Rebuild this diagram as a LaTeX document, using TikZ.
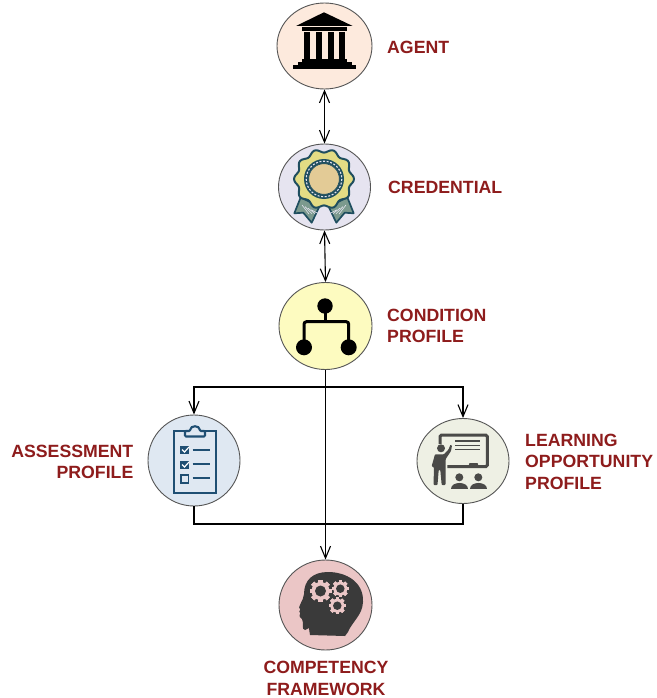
\documentclass[tikz,border=0pt]{standalone}
\usepackage{fontspec}
\setmainfont{Liberation Sans}
\usetikzlibrary{shapes.geometric,arrows.meta}
\definecolor{lab}{HTML}{8E1C1C}
\definecolor{ring}{HTML}{555555}
\definecolor{teal}{HTML}{1F4E5F}
\definecolor{navy}{HTML}{1F4F73}
\definecolor{slategrey}{HTML}{4A4A48}
\definecolor{headgrey}{HTML}{3A3A3A}
\definecolor{agentbg}{HTML}{FDEADD}
\definecolor{credbg}{HTML}{E6E4F0}
\definecolor{condbg}{HTML}{FDFBC0}
\definecolor{assessbg}{HTML}{DFE8F2}
\definecolor{learnbg}{HTML}{EEF0E4}
\definecolor{compbg}{HTML}{EBC6C6}
\definecolor{rosette}{HTML}{E3DC84}
\definecolor{seal}{HTML}{E3CB96}
\definecolor{tail}{HTML}{7C9A8E}
\tikzset{
  disc/.style={ellipse,draw=ring,line width=0.9pt,inner sep=0pt},
  lbl/.style={text=lab,inner sep=0pt,font=\bfseries\fontsize{17.7}{21.5}\selectfont},
  link/.style={line width=1.1pt,draw=black},
  barb/.style={-{Straight Barb[length=12pt,width=10pt,line width=1.1pt]}},
  dbarb/.style={{Straight Barb[length=12pt,width=10pt,line width=1.1pt]}-{Straight Barb[length=12pt,width=10pt,line width=1.1pt]}},
}
\newcommand{\cogwheel}[3]{%
  \foreach \a in {0,45,...,315}{
    \fill[compbg,rotate around={\a:(#1,#2)}] (#1-#3*0.2,#2-#3) rectangle (#1+#3*0.2,#2+#3);
  }
  \fill[compbg] (#1,#2) circle[radius=#3*0.82];
  \fill[headgrey] (#1,#2) circle[radius=#3*0.5];
}
\begin{document}
\begin{tikzpicture}[x=1pt,y=-1pt]
\useasboundingbox (0,0) rectangle (656,698);
\fill[white] (0,0) rectangle (656,698);

% discs
\node[disc,fill=agentbg,minimum width=95pt,minimum height=86pt] (agent) at (324.5,46) {};
\node[disc,fill=credbg,minimum width=92pt,minimum height=86pt] (cred) at (324.5,187) {};
\node[disc,fill=condbg,minimum width=93pt,minimum height=87pt] (cond) at (325.5,326) {};
\node[disc,fill=assessbg,minimum width=92pt,minimum height=91pt] (assess) at (194,460.5) {};
\node[disc,fill=learnbg,minimum width=92pt,minimum height=85pt] (learn) at (463,461) {};
\node[disc,fill=compbg,minimum width=93pt,minimum height=90pt] (comp) at (325.5,605) {};

% connectors
\coordinate (bus) at (325.5,387);
\coordinate (rail) at (325.5,524);
\draw[link,dbarb] (agent.south) -- (cred.north);
\draw[link,dbarb] (cred.south) -- (cond.north);
\draw[link,barb] (cond.south) -- (comp.north);
\draw[link,barb] (bus) -- (bus -| assess.north) -- (assess.north);
\draw[link,barb] (bus) -- (bus -| learn.north) -- (learn.north);
\draw[link] (assess.south) -- (rail -| assess.south) -- (rail -| learn.south) -- (learn.south);

% agent icon
\fill[black] (324,12.3) -- (352.7,26) -- (296,26) -- cycle;
\fill[black] (301.7,27.3) rectangle (346.7,30.7);
\foreach \x in {303.8,315.5,327.5,339.1}{\fill[black] (\x,31.7) rectangle (\x+6.2,59);}
\fill[black] (301.7,59) rectangle (346.7,62.5);
\fill[black] (297.5,62.3) rectangle (351.7,65.5);
\fill[black] (292.7,65.5) rectangle (355.7,69);

% credential icon
\foreach \s in {1,-1}{
  \begin{scope}[shift={(324,0)},x=\s pt]
    \draw[teal,line width=1.7pt,fill=tail,line join=round]
      (-23.3,197.3) -- (-29.7,213.3) -- (-20.7,212.7) -- (-12.3,222.7) -- (-4.7,206.7) -- cycle;
    \foreach \k in {0,1,2,3}{
      \draw[credbg,line width=0.6pt] (-22+\k*3,205+\k*1.6) -- (-15+\k*3,214-\k*0.2);
    }
  \end{scope}
}
\draw[teal,line width=2pt,fill=rosette,line join=round]
  plot[samples=96,domain=0:356.25] ({324+(28.2+1.8*cos(10*\x))*cos(\x)},{179+(28.2+1.8*cos(10*\x))*sin(\x)}) -- cycle;
\fill[teal] (324,179) circle[radius=20];
\draw[credbg,line width=1.1pt,dash pattern=on 2pt off 1.6pt] (324,179) circle[radius=17.8];
\fill[seal,draw=teal,line width=0.6pt] (324,179) circle[radius=15.3];

% condition icon
\draw[black,line width=3pt,rounded corners=2.5pt] (304,347.3) -- (304,321.7) -- (348.7,321.7) -- (348.7,347.3);
\draw[black,line width=3pt] (325,306) -- (325,321.7);
\fill[black] (325,306) circle[radius=7.7];
\fill[black] (304,347.3) circle[radius=8];
\fill[black] (348.7,347.3) circle[radius=8];

% assessment icon
\draw[navy,line width=2.1pt] (173.8,431) rectangle (216.2,493);
\draw[navy,line width=2.1pt,fill=assessbg,rounded corners=1pt] (185,436.5) -- (185,431) -- (190,431) .. controls (190.5,425) and (199.5,425) .. (200,431) -- (205,431) -- (205,436.5) -- cycle;
\fill[navy] (180,446) rectangle (189.3,454.3);
\draw[white,line width=1.2pt] (182,449.5) -- (184.5,452) -- (189,447);
\fill[navy] (180,460.7) rectangle (189.3,469.3);
\draw[white,line width=1.2pt] (182,464.5) -- (184.5,467) -- (189,462);
\draw[navy,line width=1.9pt] (180.8,475) rectangle (188.5,483);
\foreach \y in {450.3,464.3,478.3}{\draw[navy,line width=1.9pt] (192.7,\y) -- (210,\y);}

% learning icon
\draw[slategrey,line width=3pt,rounded corners=1.5pt] (440,444) -- (440,435) -- (487.3,435) -- (487.3,466.7) -- (447.3,466.7);
\foreach \y in {441,445.3,449.3}{\draw[slategrey,line width=1.2pt] (455,\y) -- (480,\y);}
\fill[slategrey] (468.5,466) -- (469.5,463) -- (477.5,463) -- (478.5,466) -- cycle;
\fill[slategrey] (441,448.3) circle[radius=4];
\fill[slategrey,rounded corners=0.8pt] (431.7,466) -- (435,454.3) -- (444,454.3) -- (448.5,449.5) -- (450.5,444.5) -- (452,445.5) -- (451,451) -- (445.7,459) -- (445.5,485) -- (441.7,485) -- (440.3,470) -- (438.7,470) -- (437.5,485) -- (433.5,485) -- (434,467) -- (433.3,467.5) -- cycle;
\foreach \x in {459.3,478.3}{
  \fill[slategrey] (\x,477.3) circle[radius=4];
  \fill[slategrey] (\x-8.5,488.5) .. controls (\x-8.5,480.5) and (\x+8.5,480.5) .. (\x+8.5,488.5) -- cycle;
}

% competency icon
\fill[headgrey] (310,635) .. controls (309.5,631) and (309,630) .. (309,628)
  -- (305,630) .. controls (301,630) and (304,622) .. (302,619)
  .. controls (298,616) and (300,615) .. (300,614)
  -- (300,613) .. controls (299,612) and (299,611) .. (300,610)
  -- (300,609) .. controls (298,609) and (299.5,606) .. (300,605)
  .. controls (302,600) and (304,598) .. (304,594)
  .. controls (304,580) and (313,572) .. (328,572)
  .. controls (346,572) and (364,582) .. (363,602)
  .. controls (362.5,615) and (352,622) .. (348,632)
  -- (345,636) -- cycle;
\cogwheel{320.5}{591}{11}
\cogwheel{340.3}{588.7}{8.5}
\cogwheel{337.3}{605.7}{8.5}

% labels
\node[lbl,anchor=west] (lagent) at (387,47) {AGENT};
\node[lbl,anchor=west] (lcred) at (388,187.5) {CREDENTIAL};
\node[lbl,anchor=west,align=left] (lcond) at (387,326) {CONDITION\\PROFILE};
\node[lbl,anchor=east,align=right] (lassess) at (133.5,462) {ASSESSMENT\\PROFILE};
\node[lbl,anchor=west,align=left] (llearn) at (525,461.5) {LEARNING\\OPPORTUNITY\\PROFILE};
\node[lbl,align=center] (lcomp) at (326,678.5) {COMPETENCY\\FRAMEWORK};
\end{tikzpicture}
\end{document}
